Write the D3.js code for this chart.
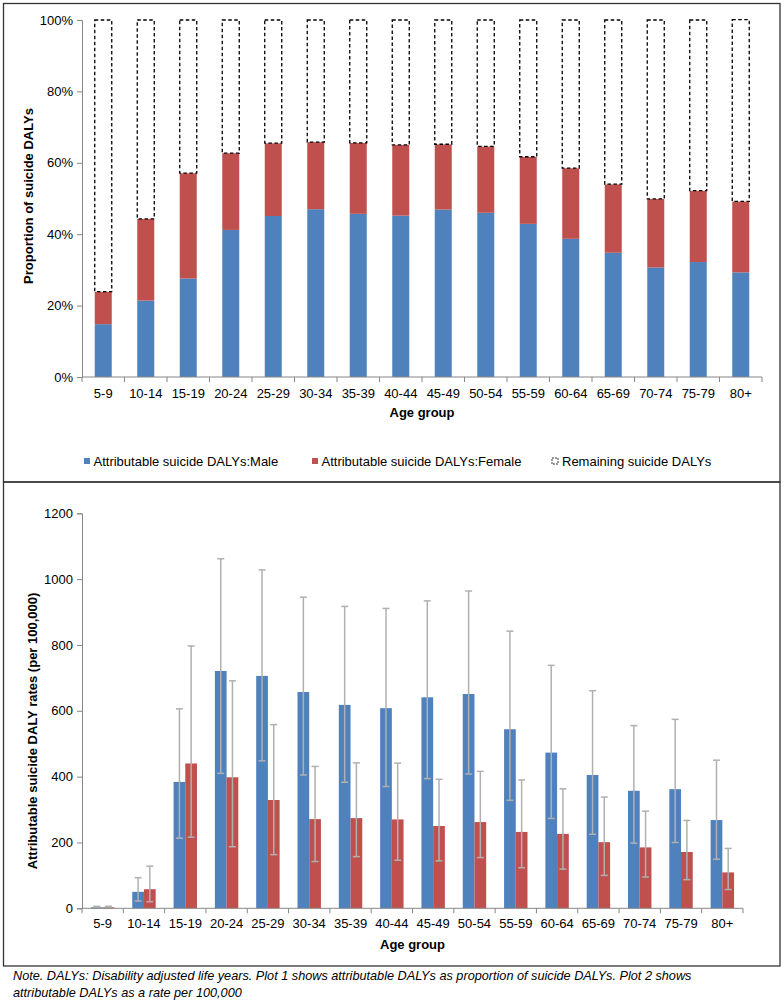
<!DOCTYPE html>
<html><head><meta charset="utf-8">
<script src="https://cdn.jsdelivr.net/npm/d3@7"></script>
<style>
body{margin:0;background:#fff;}
text{font-family:"Liberation Sans",Arial,sans-serif;fill:#000;}
</style></head>
<body><svg id="c" width="784" height="1002"></svg>
<script>
const ageGroups = ["5-9","10-14","15-19","20-24","25-29","30-34","35-39","40-44","45-49","50-54","55-59","60-64","65-69","70-74","75-79","80+"];
// Plot 1: proportion of suicide DALYs (%)
const propMale = [14.8,21.4,27.6,41.2,45.1,47.0,45.7,45.2,46.9,46.0,42.9,38.7,34.8,30.7,32.2,29.3];
const propFemale = [9.1,22.9,29.5,21.5,20.4,18.8,19.9,19.8,18.3,18.6,18.8,19.8,19.2,19.2,20.0,19.9];
const propRemaining = [76.1,55.7,42.9,37.3,34.5,34.2,34.4,35.0,34.8,35.4,38.3,41.5,46.0,50.1,47.8,50.9];
const propTicks = [0,20,40,60,80,100];
// Plot 2: rates per 100,000
const rateMale   = [3,50,384,721,706,657,618,608,641,651,544,473,405,357,362,268];
const rateMaleLo = [1,22,213,410,448,405,383,370,394,408,328,273,225,198,200,149];
const rateMaleHi = [6,93,606,1062,1028,945,917,911,934,964,842,738,661,555,574,450];
const rateFemale   = [3,58,440,398,329,271,274,270,250,262,232,226,201,185,171,109];
const rateFemaleLo = [1,20,216,187,163,142,157,146,144,154,123,119,100,95,87,57];
const rateFemaleHi = [6,128,797,691,558,431,442,441,392,416,390,363,338,295,267,182];
const rateTicks = [0,200,400,600,800,1000,1200];
const seriesNames = ["Attributable suicide DALYs:Male","Attributable suicide DALYs:Female","Remaining suicide DALYs"];
const BLUE="#4f81bd", RED="#c0504d", AXIS="#868686", ERR="#b0b0b0";
const FS = "13px";

const svg = d3.select("#c");
// panel borders
svg.append("rect").attr("x",3.5).attr("y",3.5).attr("width",776.5).attr("height",478.5).attr("fill","none").attr("stroke","#333").attr("stroke-width",1.3);
svg.append("rect").attr("x",3.5).attr("y",482).attr("width",776.5).attr("height",484).attr("fill","none").attr("stroke","#333").attr("stroke-width",1.3);

// ---------- Plot 1 ----------
const x1 = d3.scaleBand().domain(ageGroups).range([82,762]).paddingInner(0.6).paddingOuter(0.3);
const y1 = d3.scaleLinear().domain([0,100]).range([377,20]);
const rows = ageGroups.map((g,i)=>({g, male:propMale[i], female:propFemale[i], rem:propRemaining[i]}));
const stack = d3.stack().keys(["male","female","rem"])(rows);
const g1 = svg.append("g");
const ya1 = g1.append("g").attr("transform","translate(82,0)")
  .call(d3.axisLeft(y1).tickValues(propTicks).tickSize(5).tickPadding(4).tickFormat(d=>d+"%"));
ya1.selectAll("path,line").attr("stroke",AXIS);
ya1.selectAll("text").style("font-size",FS).attr("fill","#000");
const fills = [BLUE,RED,"#fff"];
stack.forEach((s,k)=>{
  g1.selectAll(null).data(s).enter().append("rect")
    .attr("x",d=>x1(d.data.g))
    .attr("width",x1.bandwidth())
    .attr("y",d=>y1(d[1]))
    .attr("height",d=>y1(d[0])-y1(d[1]))
    .attr("fill",fills[k])
    .attr("stroke",k===2?"#000":"none")
    .attr("stroke-width",k===2?1.3:0)
    .attr("stroke-dasharray",k===2?"3.5,2.5":null);
});
const step1 = x1.step();
const xa1 = g1.append("g").attr("transform","translate(0,377)");
xa1.append("line").attr("x1",82).attr("x2",762).attr("stroke",AXIS);
xa1.selectAll("line.t").data(d3.range(ageGroups.length+1)).enter().append("line")
  .attr("x1",i=>82+i*step1).attr("x2",i=>82+i*step1).attr("y1",0).attr("y2",5).attr("stroke",AXIS);
xa1.selectAll("text").data(ageGroups).enter().append("text")
  .attr("x",d=>x1(d)+x1.bandwidth()/2).attr("y",20.5).attr("text-anchor","middle").style("font-size",FS).text(d=>d);
g1.append("text").attr("x",422).attr("y",416.5).attr("text-anchor","middle").style("font-size",FS).style("font-weight","bold").text("Age group");
g1.append("text").attr("transform","translate(33,196) rotate(-90)").attr("text-anchor","middle").style("font-size",FS).style("font-weight","bold").text("Proportion of suicide DALYs");
// legend
const leg = [{x:84,c:BLUE},{x:312,c:RED},{x:552,c:"none"}];
leg.forEach((l,i)=>{
  const lg = g1.append("g");
  lg.append("rect").attr("x",l.x).attr("y",458).attr("width",6).attr("height",6)
    .attr("fill",l.c==="none"?"#fff":l.c).attr("stroke",l.c==="none"?"#000":"none").attr("stroke-dasharray",l.c==="none"?"2,1":null).attr("stroke-width",0.8);
  lg.append("text").attr("x",l.x+(i===2?10:9.5)).attr("y",465.5).style("font-size",FS).text(seriesNames[i]);
});

// ---------- Plot 2 ----------
const x2 = d3.scaleBand().domain(ageGroups).range([82,743]).paddingInner(0.433).paddingOuter(0.2165);
const xs = d3.scaleBand().domain(["m","f"]).range([0,x2.bandwidth()]);
const y2 = d3.scaleLinear().domain([0,1200]).range([908.3,513.3]);
const g2 = svg.append("g");
const ya2 = g2.append("g").attr("transform","translate(82,0)")
  .call(d3.axisLeft(y2).tickValues(rateTicks).tickSize(5).tickPadding(4).tickFormat(d3.format("d")));
ya2.selectAll("path,line").attr("stroke",AXIS);
ya2.selectAll("text").style("font-size",FS).attr("fill","#000");
const rows2 = ageGroups.map((g,i)=>[
  {g,k:"m",v:rateMale[i],lo:rateMaleLo[i],hi:rateMaleHi[i],c:BLUE},
  {g,k:"f",v:rateFemale[i],lo:rateFemaleLo[i],hi:rateFemaleHi[i],c:RED}]).flat();
g2.selectAll("rect.b").data(rows2).enter().append("rect")
  .attr("x",d=>x2(d.g)+xs(d.k)).attr("width",xs.bandwidth())
  .attr("y",d=>y2(d.v)).attr("height",d=>y2(0)-y2(d.v)).attr("fill",d=>d.c);
const eb = g2.selectAll("g.e").data(rows2).enter().append("g");
const cx = d=>x2(d.g)+xs(d.k)+xs.bandwidth()/2;
eb.append("line").attr("x1",cx).attr("x2",cx).attr("y1",d=>y2(d.lo)).attr("y2",d=>y2(d.hi)).attr("stroke",ERR).attr("stroke-width",1.5);
eb.append("line").attr("x1",d=>cx(d)-3.5).attr("x2",d=>cx(d)+3.5).attr("y1",d=>y2(d.hi)).attr("y2",d=>y2(d.hi)).attr("stroke",ERR).attr("stroke-width",1.5);
eb.append("line").attr("x1",d=>cx(d)-3.5).attr("x2",d=>cx(d)+3.5).attr("y1",d=>y2(d.lo)).attr("y2",d=>y2(d.lo)).attr("stroke",ERR).attr("stroke-width",1.5);
const step2 = x2.step();
const xa2 = g2.append("g").attr("transform","translate(0,908.3)");
xa2.append("line").attr("x1",82).attr("x2",743).attr("stroke",AXIS);
xa2.selectAll("line.t").data(d3.range(ageGroups.length+1)).enter().append("line")
  .attr("x1",i=>82+i*step2).attr("x2",i=>82+i*step2).attr("y1",0).attr("y2",5).attr("stroke",AXIS);
xa2.selectAll("text").data(ageGroups).enter().append("text")
  .attr("x",d=>x2(d)+x2.bandwidth()/2).attr("y",19.5).attr("text-anchor","middle").style("font-size",FS).text(d=>d);
g2.append("text").attr("x",412.5).attr("y",948.5).attr("text-anchor","middle").style("font-size",FS).style("font-weight","bold").text("Age group");
g2.append("text").attr("transform","translate(36.5,731) rotate(-90)").attr("text-anchor","middle").style("font-size",FS).style("font-weight","bold").text("Attributable suicide DALY rates (per 100,000)");

// note
svg.append("text").attr("x",13).attr("y",980).style("font-size","12.7px").style("font-style","italic")
  .text("Note. DALYs: Disability adjusted life years. Plot 1 shows attributable DALYs as proportion of suicide DALYs. Plot 2 shows");
svg.append("text").attr("x",13).attr("y",996.5).style("font-size","12.7px").style("font-style","italic")
  .text("attributable DALYs as a rate per 100,000");
</script></body></html>
